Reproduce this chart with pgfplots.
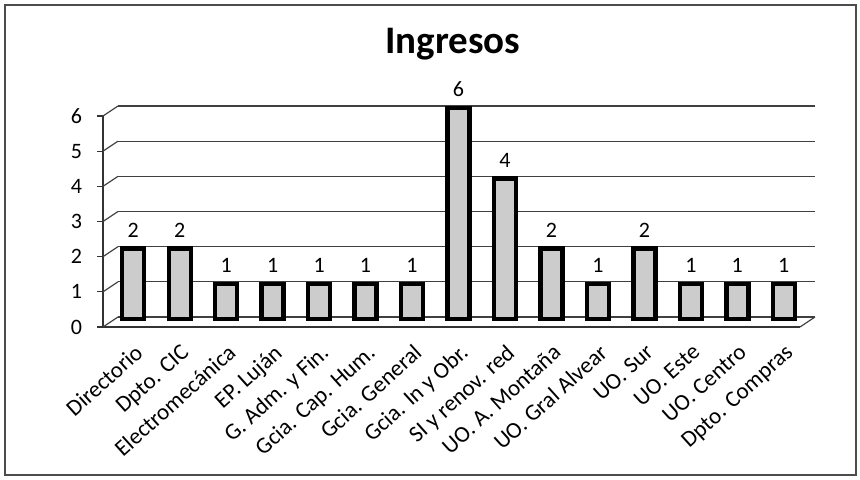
\documentclass[border=0pt]{standalone}
\usepackage{fontspec}
\setmainfont{Carlito}
\usepackage{pgfplots}
\pgfplotsset{compat=1.18}
\begin{document}
\begin{tikzpicture}
\useasboundingbox (0,0) rectangle (430pt,240pt);
\fill[white] (0,0) rectangle (430pt,240pt);
\draw[black!70, line width=0.6pt] (2.5pt,2.5pt) rectangle (428pt,237.5pt);
\node[font=\bfseries\fontsize{19.5}{22}\selectfont] at (226.5pt,218pt) {Ingresos};
\begin{axis}[
  at={(51.5pt,76.5pt)}, anchor=south west,
  scale only axis, width=348.5pt, height=105.5pt,
  xmin=-0.5, xmax=14.5, ymin=0, ymax=6,
  ytick={0,1,...,6},
  xtick=data,
  xticklabels={Directorio,Dpto. CIC,Electromecánica,EP. Luján,G. Adm. y Fin.,Gcia. Cap. Hum.,Gcia. General,Gcia. In y Obr.,SI y renov. red,UO. A. Montaña,UO. Gral Alvear,UO. Sur,UO. Este,UO. Centro,Dpto. Compras},
  x tick label style={rotate=42, anchor=north east, font=\fontsize{11.5}{12}\selectfont, inner sep=1pt, yshift=-5pt, xshift=0.5pt},
  y tick label style={font=\fontsize{11}{12}\selectfont, xshift=-4pt},
  /pgf/number format/assume math mode=true,
  axis x line*=bottom, axis y line*=left,
  axis line style={black!80, line width=0.7pt},
  x tick style={draw=none},
  y tick style={black!80, line width=0.6pt},
  tick align=outside, major tick length=3pt,
  extra x ticks={-0.5,0.5,...,14.5},
  extra x tick labels={},
  extra x tick style={grid=none, tick style={draw=black!80, line width=0.6pt}, major tick length=3pt},
  ymajorgrids, grid style={black!75, line width=0.6pt, xshift=7.5pt, yshift=5pt},
  enlargelimits=false,
  clip=false,
  nodes near coords,
  every node near coord/.append style={font=\fontsize{11}{12}\selectfont, black, yshift=1pt},
]
\addplot[ybar, bar width=11pt, fill=gray!40, draw=black, line width=2.2pt, xshift=3.5pt, yshift=4pt] coordinates {
(0,2) (1,2) (2,1) (3,1) (4,1) (5,1) (6,1) (7,6) (8,4) (9,2) (10,1) (11,2) (12,1) (13,1) (14,1)
};
\draw[black!75, line width=0.6pt] (axis cs:-0.5,0) -- ++(7.5pt,5pt);
\draw[black!75, line width=0.6pt] (axis cs:-0.5,1) -- ++(7.5pt,5pt);
\draw[black!75, line width=0.6pt] (axis cs:-0.5,2) -- ++(7.5pt,5pt);
\draw[black!75, line width=0.6pt] (axis cs:-0.5,3) -- ++(7.5pt,5pt);
\draw[black!75, line width=0.6pt] (axis cs:-0.5,4) -- ++(7.5pt,5pt);
\draw[black!75, line width=0.6pt] (axis cs:-0.5,5) -- ++(7.5pt,5pt);
\draw[black!75, line width=0.6pt] (axis cs:-0.5,6) -- ++(7.5pt,5pt);
\draw[black!75, line width=0.6pt] (axis cs:14.5,0) -- ++(7.5pt,5pt);
\end{axis}
\end{tikzpicture}
\end{document}
